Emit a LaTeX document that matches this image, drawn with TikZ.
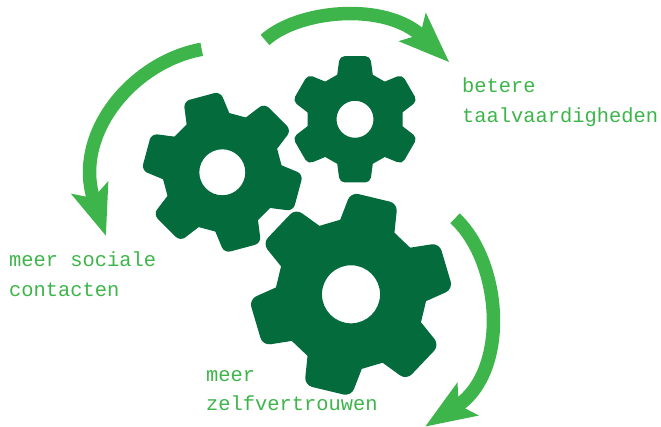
\documentclass[tikz,border=0pt]{standalone}
\usepackage{fontspec}
\usepackage{xcolor}
\usetikzlibrary{arrows.meta}
\setmonofont{Liberation Mono}
\definecolor{geargreen}{HTML}{036B3C}
\definecolor{arrowgreen}{HTML}{3DB54A}
\tikzset{
  gearbody/.style={fill=geargreen,even odd rule},
  cyclearrow/.style={draw=arrowgreen,line width=13.5pt,
    -{Stealth[length=50pt,width=37.5pt,inset=10pt,fill=arrowgreen]}},
  gaintext/.style={text=arrowgreen,font=\ttfamily\fontsize{20.4}{29.5}\selectfont,
    align=left,anchor=north west,inner sep=0pt}
}
\newcommand{\gearat}[4]{
\fill [gearbody] (#1,#2) +({-90+#4-21.7}:{48*#3})
  \foreach \a in {0,60,...,300} {
    -- +({\a-90+#4-21.7}:{48*#3})
    -- +({\a-90+#4+21.7}:{48*#3})
  } -- cycle
  (#1,#2) circle[radius={18.5*#3}];
\foreach \a in {0,60,...,300} {
  \fill [geargreen,rounded corners={5pt*#3}] (#1,#2) +({\a-90+#4-33.3}:{35.9*#3})
    -- +({\a-90+#4-13.6}:{65*#3})
    -- +({\a-90+#4+13.6}:{65*#3})
    -- +({\a-90+#4+33.3}:{35.9*#3}) -- cycle;
}
}

\begin{document}
\begin{tikzpicture}[x=1pt,y=-1pt]
\useasboundingbox (0,0) rectangle (661,427);

\gearat{355}{119.3}{1}{0}
\gearat{222.3}{172.3}{1.243}{-15}
\gearat{351}{294.3}{1.57}{13.5}

\coordinate (topstart) at (265,40);
\coordinate (toptip) at (449.3,62.3);
\draw [cyclearrow] (topstart) .. controls (298,10) and (385,1) .. (toptip);

\coordinate (leftstart) at (201.7,49.3);
\coordinate (lefttip) at (106,236);
\draw [cyclearrow] (leftstart) .. controls (132,62) and (72,135) .. (lefttip);

\coordinate (rightstart) at (455,218.3);
\coordinate (righttip) at (425,426.7);
\draw [cyclearrow] (rightstart) .. controls (502,262) and (510,372) .. (righttip);

\node (taal) [gaintext] at (462,78) {betere\\taalvaardigheden};
\node (sociaal) [gaintext] at (9,252) {meer sociale\\contacten};
\node (zelf) [gaintext] at (206,370) {meer\\zelfvertrouwen};
\end{tikzpicture}
\end{document}
